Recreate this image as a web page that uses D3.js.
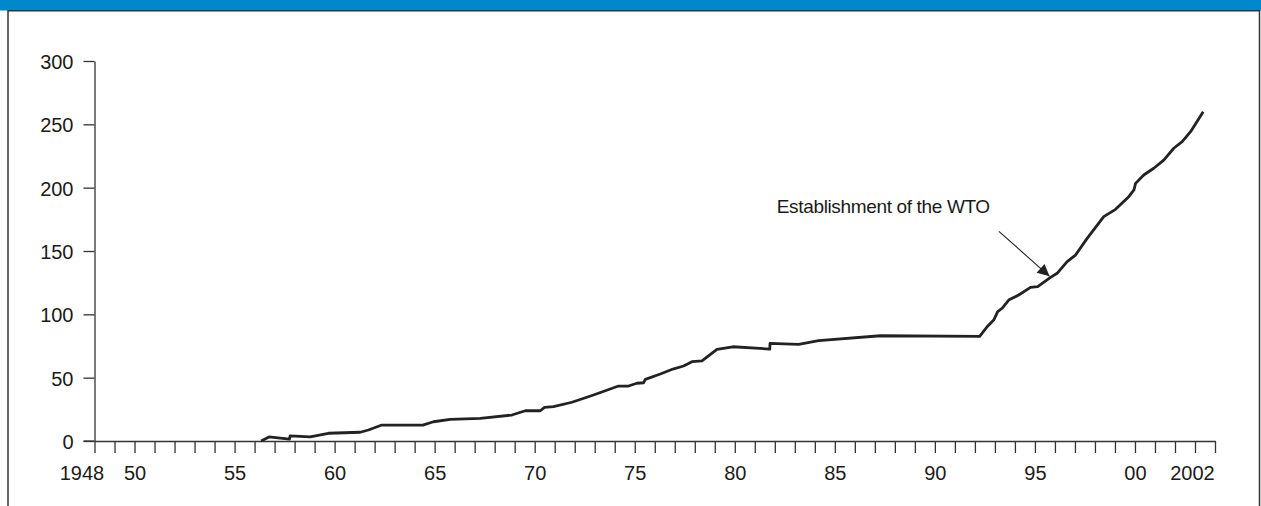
<!DOCTYPE html>
<html>
<head>
<meta charset="utf-8">
<script src="https://cdn.jsdelivr.net/npm/d3@7"></script>
<style>
  html, body { margin: 0; padding: 0; background: #fff; }
  svg { display: block; }
  text { font-family: "Liberation Sans", Arial, sans-serif; fill: #1a1a1a; }
</style>
</head>
<body>
<svg id="chart" width="1261" height="506"></svg>
<script>
// ---- Data (cumulative count) ----
const years = [1956.33, 1956.72, 1957.74, 1957.78, 1958.78, 1959.69, 1961.28, 1961.69, 1962.36, 1964.41,
  1964.94, 1965.78, 1967.28, 1968.86, 1969.53, 1970.28, 1970.49, 1970.94, 1971.86, 1972.94,
  1974.19, 1974.69, 1975.11, 1975.44, 1975.53, 1976.28, 1976.91, 1977.44, 1977.86, 1978.36,
  1979.11, 1979.9, 1981.75, 1981.76, 1983.19, 1984.19, 1987.28, 1992.24, 1992.61, 1992.94,
  1993.14, 1993.36, 1993.69, 1994.19, 1994.78, 1995.14, 1995.78, 1996.11, 1996.61, 1997.03,
  1997.61, 1998.44, 1999.03, 1999.69, 1999.95, 2000.03, 2000.44, 2000.94, 2001.44, 2001.94,
  2002.36, 2002.78, 2003.41];
const values = [0, 3.2, 1.4, 4.0, 3.2, 6.1, 6.9, 8.7, 12.6, 12.6,
  15.2, 17.1, 17.9, 20.5, 23.9, 23.9, 26.6, 27.1, 30.6, 36.3,
  43.4, 43.4, 45.6, 46.0, 48.7, 52.9, 56.8, 59.2, 62.6, 63.2,
  72.4, 74.4, 72.6, 77.0, 76.3, 79.2, 83.1, 82.6, 90.2, 95.5,
  102.1, 104.8, 111.3, 115.3, 121.3, 121.8, 129.2, 132.4, 141.6, 146.8,
  160.0, 177.1, 182.9, 192.9, 198.2, 203.4, 210.0, 215.3, 221.8, 231.1,
  236.3, 244.2, 260.0];

const yTicks = [0, 50, 100, 150, 200, 250, 300];
const xTickYears = d3.range(1948, 2005);
const xLabelYears = [1948, 1950, 1955, 1960, 1965, 1970, 1975, 1980, 1985, 1990, 1995, 2000, 2002];
const xLabelTexts = ["1948", "50", "55", "60", "65", "70", "75", "80", "85", "90", "95", "00", "2002"];

const annotationText = "Establishment of the WTO";
const annotationTextPos = [1982.1, 180];    // [year, value]
const annotationArrowFrom = [1993.2, 165.5];
const annotationArrowTo = [1995.78, 129.2];

// ---- Layout ----
const svg = d3.select("#chart");
const W = 1261, H = 506;

// blue band and frame
svg.append("rect").attr("x", 0).attr("y", 0).attr("width", W).attr("height", 10.5).attr("fill", "#0088cc");
svg.append("rect").attr("x", 8).attr("y", 10.75).attr("width", 1251.5).attr("height", 600)
  .attr("fill", "none").attr("stroke", "#333").attr("stroke-width", 1.5);

const x = d3.scaleLinear().domain([1948, 2004]).range([94.5, 1215]);
const y = d3.scaleLinear().domain([0, 300]).range([441, 61]);

const axisColor = "#333";
const fontFam = "Liberation Sans, Arial, sans-serif";

// Y axis
const yAxis = svg.append("g").attr("transform", `translate(${x(1948)},0)`)
  .call(d3.axisLeft(y).tickValues(yTicks).tickSize(11).tickSizeOuter(0).tickPadding(10));
yAxis.selectAll("path, line").attr("stroke", axisColor).attr("stroke-width", 1.3);
yAxis.selectAll("text").attr("font-size", 20).attr("font-family", fontFam).attr("fill", "#1a1a1a")
  .attr("dy", "0.37em");

// X axis
const labelMap = new Map(xLabelYears.map((yr, i) => [yr, xLabelTexts[i]]));
const xAxis = svg.append("g").attr("transform", `translate(0,${y(0)})`)
  .call(d3.axisBottom(x).tickValues(xTickYears).tickSize(12).tickSizeOuter(0).tickPadding(13)
    .tickFormat(d => labelMap.get(d) || ""));
xAxis.selectAll("path, line").attr("stroke", axisColor).attr("stroke-width", 1.3);
xAxis.selectAll("text").attr("font-size", 20).attr("font-family", fontFam).attr("fill", "#1a1a1a")
  .attr("dx", d => d === 1948 ? -13 : (d === 2002 ? 17 : 0));
// extend baseline to the left, through the 0 tick
svg.append("line").attr("x1", x(1948) - 11).attr("x2", x(1948)).attr("y1", y(0)).attr("y2", y(0))
  .attr("stroke", axisColor).attr("stroke-width", 1.3);

// Line
const pts = years.map((yr, i) => [yr, values[i]]);
const line = d3.line().x(d => x(d[0])).y(d => y(d[1]));
svg.append("path").datum(pts).attr("d", line)
  .attr("fill", "none").attr("stroke", "#222").attr("stroke-width", 2.8)
  .attr("stroke-linejoin", "round").attr("stroke-linecap", "butt");

// Annotation
svg.append("defs").append("marker").attr("id", "arrow")
  .attr("viewBox", "0 0 10 10").attr("refX", 10).attr("refY", 5)
  .attr("markerUnits", "userSpaceOnUse").attr("markerWidth", 17).attr("markerHeight", 12)
  .attr("orient", "auto")
  .append("path").attr("d", "M0,0 L10,5 L0,10 Z").attr("fill", "#222");

svg.append("line")
  .attr("x1", x(annotationArrowFrom[0])).attr("y1", y(annotationArrowFrom[1]))
  .attr("x2", x(annotationArrowTo[0]) - 1).attr("y2", y(annotationArrowTo[1]) - 1)
  .attr("stroke", "#222").attr("stroke-width", 1.1).attr("marker-end", "url(#arrow)");

svg.append("text").attr("x", x(annotationTextPos[0])).attr("y", y(annotationTextPos[1]))
  .attr("font-size", 19).attr("letter-spacing", -0.35).text(annotationText);
</script>
</body>
</html>
